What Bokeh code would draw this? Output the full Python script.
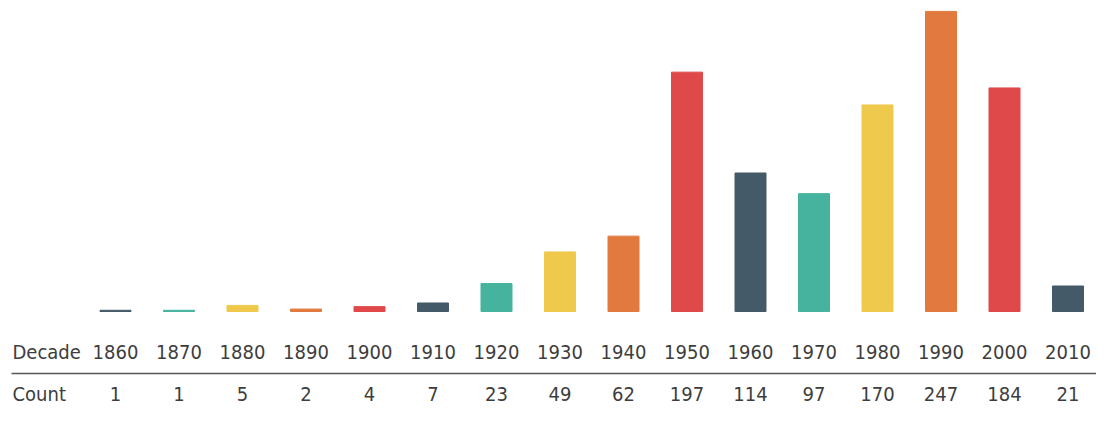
from bokeh.plotting import figure
from bokeh.models import ColumnDataSource
from bokeh.core.properties import value
from bokeh.embed import file_html
from bokeh.resources import INLINE

decades = ["1860", "1870", "1880", "1890", "1900", "1910", "1920", "1930",
           "1940", "1950", "1960", "1970", "1980", "1990", "2000", "2010"]
counts = [1, 1, 5, 2, 4, 7, 23, 49, 62, 197, 114, 97, 170, 247, 184, 21]
palette = ["#445A68", "#45B39D", "#EFC94C", "#E27A3F", "#DF4949"]
row_labels = ["Decade", "Count"]

W, H = 1096, 406
x0_px, step_px = 115, 63.5        # first bar centre, spacing
base_px, unit_px = H - 311, 1.215  # zero line from bottom, px per count

xs = list(range(len(decades)))
colors = [palette[i % len(palette)] for i in xs]

p = figure(width=W, height=H, output_backend="svg", toolbar_location=None,
           x_range=(-x0_px / step_px, (W - x0_px) / step_px),
           y_range=(-base_px / unit_px, (H - base_px) / unit_px),
           min_border=0)
p.axis.visible = False
p.grid.visible = False
p.outline_line_color = None
p.background_fill_color = "white"
p.border_fill_color = "white"

src = ColumnDataSource(dict(x=xs, top=counts, color=colors,
                            dec=decades, cnt=[str(c) for c in counts]))
p.vbar(x="x", top="top", bottom=0, width=31 / step_px, color="color", source=src)

def ypx(px_from_top):
    return ((H - px_from_top) - base_px) / unit_px

y_dec = ypx(351)
y_cnt = ypx(393)
y_line = ypx(373)

font = value("DejaVu Sans Condensed")
tcol = "#3d3d3d"
fs = "20px"

p.text(x="x", y=y_dec, text="dec", source=src, text_align="center",
       text_baseline="middle", text_font=font, text_font_size=fs, text_color=tcol)
p.text(x="x", y=y_cnt, text="cnt", source=src, text_align="center",
       text_baseline="middle", text_font=font, text_font_size=fs, text_color=tcol)

lx = (12 - x0_px) / step_px
p.text(x=[lx, lx], y=[y_dec, y_cnt], text=row_labels, text_align="left",
       text_baseline="middle", text_font=font, text_font_size=fs, text_color=tcol)

p.segment(x0=[(11 - x0_px) / step_px], y0=[y_line], x1=[(W - x0_px) / step_px],
          y1=[y_line], line_color="#555555", line_width=1.5)

open("out.html", "w").write(file_html(p, INLINE))
